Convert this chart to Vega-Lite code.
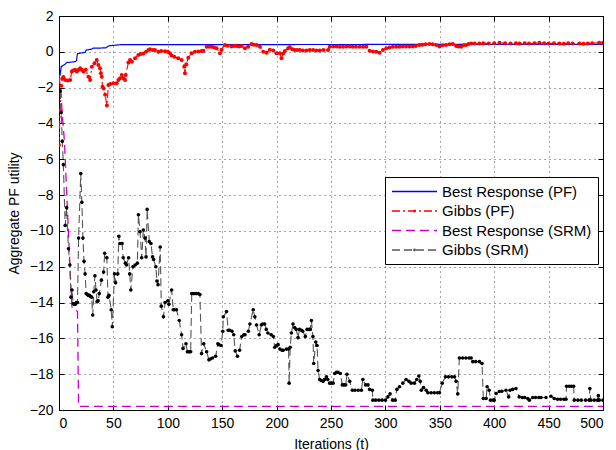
{
"$schema": "https://vega.github.io/schema/vega-lite/v6.json",
"width": 544, "height": 394,
"autosize": {"type": "none"},
"padding": {"left": 59, "top": 16, "right": 13, "bottom": 40},
"background": "white",
"config": {
  "font": "Liberation Sans",
  "view": {"stroke": "black", "strokeWidth": 1},
  "axis": {"domainColor": "black", "tickColor": "black", "tickSize": -5, "labelPadding": 11, "labelFontSize": 14, "labelColor": "black", "titleFontSize": 14, "titleFontWeight": "normal", "titleColor": "black", "gridColor": "#000", "gridDash": [1, 4], "gridOpacity": 0.7, "gridWidth": 1}
},
"datasets": {
"br_pf": [{"t":0,"v":-1.35},{"t":1,"v":-1.3},{"t":2,"v":-0.83},{"t":5,"v":-0.72},{"t":7,"v":-0.6},{"t":15,"v":-0.55},{"t":16,"v":-0.5},{"t":17,"v":-0.1},{"t":24,"v":-0.03},{"t":25,"v":0.1},{"t":30,"v":0.15},{"t":31,"v":0.2},{"t":43,"v":0.22},{"t":46,"v":0.34},{"t":57,"v":0.4},{"t":500,"v":0.42}],
"br_srm": [{"t":0,"v":-1.3},{"t":2,"v":-2.5},{"t":3,"v":-3.5},{"t":5,"v":-5.0},{"t":7,"v":-7.8},{"t":9,"v":-10.5},{"t":11,"v":-13.2},{"t":12,"v":-14.3},{"t":17,"v":-14.5},{"t":18,"v":-19.8},{"t":500,"v":-19.8}],
"g_pf": [{"t":0,"v":-5.2},{"t":1,"v":-3.3},{"t":2,"v":-1.9},{"t":3,"v":-1.5},{"t":4,"v":-1.4},{"t":5.7,"v":-1.58},{"t":8,"v":-1.6},{"t":10.3,"v":-1.58},{"t":11.8,"v":-1.1},{"t":13,"v":-1.05},{"t":14.9,"v":-1.0},{"t":16.4,"v":-1.1},{"t":18,"v":-1.0},{"t":19.4,"v":-0.92},{"t":21,"v":-1.0},{"t":22.5,"v":-1.1},{"t":24.6,"v":-1.0},{"t":27,"v":-1.39},{"t":28.6,"v":-1.58},{"t":30.2,"v":-0.83},{"t":32.6,"v":-0.64},{"t":34.7,"v":-0.46},{"t":36.2,"v":-0.74},{"t":37.7,"v":-0.92},{"t":38.5,"v":-1.2},{"t":39.3,"v":-1.39},{"t":40,"v":-1.95},{"t":41,"v":-2.05},{"t":42.4,"v":-2.4},{"t":44,"v":-3.0},{"t":45.4,"v":-1.85},{"t":47,"v":-1.8},{"t":50,"v":-1.76},{"t":53,"v":-1.76},{"t":54.6,"v":-1.58},{"t":56.1,"v":-1.48},{"t":57.7,"v":-1.3},{"t":59.2,"v":-1.48},{"t":60.7,"v":-1.58},{"t":61.3,"v":-1.3},{"t":63.8,"v":-0.59},{"t":65.3,"v":-0.46},{"t":67,"v":-0.55},{"t":69.9,"v":-0.36},{"t":72.9,"v":-0.18},{"t":75,"v":-0.12},{"t":77.5,"v":-0.1},{"t":80,"v":0.0},{"t":82.1,"v":0.1},{"t":83.6,"v":0.14},{"t":86,"v":0.1},{"t":88.2,"v":0.1},{"t":91.3,"v":0.0},{"t":94,"v":0.05},{"t":97.4,"v":0.03},{"t":100,"v":0.0},{"t":102,"v":-0.08},{"t":103.5,"v":-0.2},{"t":106,"v":-0.28},{"t":109.6,"v":-0.36},{"t":112.7,"v":-0.46},{"t":115.1,"v":-0.83},{"t":115.8,"v":-1.2},{"t":117,"v":-0.7},{"t":118.8,"v":-0.33},{"t":121.9,"v":-0.08},{"t":124.9,"v":0.0},{"t":128,"v":0.02},{"t":131.1,"v":0.04},{"t":132.6,"v":0.05},{"t":135.7,"v":0.28},{"t":138,"v":0.28},{"t":140.3,"v":0.28},{"t":142.5,"v":0.24},{"t":144.8,"v":0.2},{"t":147.9,"v":-0.08},{"t":149.4,"v":0.12},{"t":152.5,"v":0.38},{"t":155,"v":0.34},{"t":158.6,"v":0.3},{"t":161,"v":0.32},{"t":163.2,"v":0.32},{"t":165.5,"v":0.3},{"t":167.8,"v":0.32},{"t":170.9,"v":0.2},{"t":173.9,"v":0.28},{"t":177,"v":0.44},{"t":179,"v":0.4},{"t":181.6,"v":0.38},{"t":184.7,"v":0.28},{"t":187.7,"v":0.0},{"t":190.8,"v":-0.05},{"t":193.8,"v":0.12},{"t":196.9,"v":0.08},{"t":199.9,"v":-0.08},{"t":203,"v":-0.08},{"t":204.5,"v":-0.36},{"t":206,"v":-0.1},{"t":207.6,"v":0.05},{"t":210.6,"v":0.2},{"t":212.1,"v":0.25},{"t":214.5,"v":0.15},{"t":216.7,"v":0.1},{"t":219,"v":0.1},{"t":221.3,"v":0.1},{"t":224,"v":0.08},{"t":227.4,"v":0.08},{"t":230.5,"v":0.1},{"t":233.5,"v":0.1},{"t":236.5,"v":0.08},{"t":239.6,"v":0.08},{"t":243,"v":0.1},{"t":247.3,"v":0.1},{"t":248.8,"v":0.28},{"t":252,"v":0.3},{"t":254.9,"v":0.3},{"t":258,"v":0.28},{"t":261,"v":0.28},{"t":264,"v":0.3},{"t":267.2,"v":0.3},{"t":270,"v":0.28},{"t":273,"v":0.28},{"t":276.4,"v":0.28},{"t":279.5,"v":0.28},{"t":282.5,"v":0.28},{"t":285.5,"v":0.06},{"t":288.5,"v":0.02},{"t":291.6,"v":0.0},{"t":294.7,"v":-0.05},{"t":297.7,"v":0.1},{"t":300.8,"v":0.2},{"t":303.8,"v":0.24},{"t":306.9,"v":0.28},{"t":310,"v":0.28},{"t":313,"v":0.28},{"t":316,"v":0.3},{"t":319,"v":0.3},{"t":322,"v":0.3},{"t":325.2,"v":0.3},{"t":328,"v":0.32},{"t":331.3,"v":0.38},{"t":334,"v":0.4},{"t":337,"v":0.42},{"t":340.5,"v":0.44},{"t":343.5,"v":0.42},{"t":346.6,"v":0.38},{"t":349.7,"v":0.3},{"t":352.7,"v":0.36},{"t":355.8,"v":0.38},{"t":359,"v":0.42},{"t":361.9,"v":0.44},{"t":365,"v":0.32},{"t":367,"v":0.3},{"t":369.6,"v":0.28},{"t":372,"v":0.36},{"t":374.2,"v":0.38},{"t":376.5,"v":0.44},{"t":378.8,"v":0.47},{"t":382,"v":0.46},{"t":386.4,"v":0.47},{"t":390,"v":0.48},{"t":395,"v":0.47},{"t":400,"v":0.48},{"t":404.8,"v":0.5},{"t":410,"v":0.48},{"t":415,"v":0.46},{"t":420,"v":0.48},{"t":423.2,"v":0.47},{"t":428,"v":0.48},{"t":432,"v":0.46},{"t":437,"v":0.48},{"t":441.5,"v":0.5},{"t":446,"v":0.48},{"t":450,"v":0.46},{"t":455,"v":0.48},{"t":459.9,"v":0.47},{"t":464,"v":0.45},{"t":468,"v":0.48},{"t":472,"v":0.46},{"t":478.2,"v":0.47},{"t":482,"v":0.45},{"t":486,"v":0.47},{"t":490,"v":0.48},{"t":496.5,"v":0.51},{"t":500,"v":0.5}],
"g_srm": [{"t":1,"v":-2.2},{"t":2,"v":-3.4},{"t":3,"v":-5.0},{"t":4,"v":-6.3},{"t":5.7,"v":-9.7},{"t":7,"v":-8.7},{"t":8.7,"v":-11.0},{"t":10,"v":-11.9},{"t":11,"v":-13.7},{"t":12,"v":-13.3},{"t":13,"v":-14.05},{"t":14,"v":-14.1},{"t":15,"v":-14.1},{"t":16,"v":-14.0},{"t":17,"v":-14.0},{"t":18,"v":-10.4},{"t":20,"v":-6.8},{"t":21,"v":-8.4},{"t":22,"v":-10.4},{"t":23,"v":-11.7},{"t":24,"v":-12.4},{"t":25,"v":-13.5},{"t":26,"v":-13.55},{"t":27,"v":-13.6},{"t":28,"v":-13.6},{"t":29,"v":-13.65},{"t":30,"v":-13.7},{"t":31,"v":-14.7},{"t":32,"v":-13.4},{"t":33,"v":-12.5},{"t":34,"v":-13.3},{"t":35,"v":-13.95},{"t":36,"v":-13.9},{"t":37,"v":-13.5},{"t":39,"v":-12.75},{"t":41,"v":-12.3},{"t":42,"v":-11.25},{"t":44,"v":-11.5},{"t":45,"v":-13.7},{"t":46,"v":-13.6},{"t":48,"v":-14.4},{"t":49,"v":-15.35},{"t":51,"v":-12.4},{"t":52,"v":-12.9},{"t":54,"v":-12.4},{"t":55,"v":-10.3},{"t":56,"v":-10.7},{"t":58,"v":-10.7},{"t":59,"v":-11.5},{"t":61,"v":-11.8},{"t":62,"v":-11.9},{"t":64,"v":-11.5},{"t":65,"v":-12.4},{"t":66,"v":-13.3},{"t":68,"v":-12.0},{"t":70,"v":-11.9},{"t":72,"v":-11.8},{"t":73,"v":-9.1},{"t":74.5,"v":-10.05},{"t":76,"v":-11.5},{"t":77.5,"v":-9.95},{"t":79,"v":-10.4},{"t":80,"v":-11.45},{"t":81,"v":-8.8},{"t":83,"v":-10.6},{"t":84.5,"v":-10.7},{"t":86,"v":-11.45},{"t":87,"v":-11.6},{"t":89,"v":-12.0},{"t":90,"v":-12.8},{"t":91,"v":-13.0},{"t":93,"v":-10.9},{"t":94,"v":-14.2},{"t":96,"v":-14.8},{"t":97.5,"v":-14.0},{"t":100,"v":-13.9},{"t":101,"v":-14.1},{"t":103.5,"v":-13.3},{"t":105,"v":-14.4},{"t":106,"v":-14.4},{"t":108,"v":-14.4},{"t":110.5,"v":-15.0},{"t":112.7,"v":-15.8},{"t":114,"v":-16.56},{"t":116.7,"v":-16.3},{"t":118,"v":-16.75},{"t":119,"v":-16.75},{"t":120,"v":-16.75},{"t":121,"v":-16.75},{"t":122,"v":-13.5},{"t":124,"v":-13.5},{"t":126,"v":-13.5},{"t":128,"v":-13.5},{"t":129.5,"v":-13.55},{"t":131,"v":-16.85},{"t":133,"v":-16.3},{"t":135.7,"v":-16.75},{"t":137.8,"v":-17.2},{"t":139,"v":-17.15},{"t":141,"v":-17.1},{"t":144,"v":-17.0},{"t":146,"v":-16.3},{"t":147,"v":-16.35},{"t":149,"v":-16.4},{"t":150.5,"v":-15.6},{"t":151,"v":-14.8},{"t":154,"v":-14.5},{"t":155.5,"v":-15.55},{"t":157,"v":-15.55},{"t":159,"v":-15.6},{"t":160.6,"v":-15.8},{"t":162,"v":-16.7},{"t":164,"v":-17.0},{"t":166,"v":-16.66},{"t":168,"v":-15.9},{"t":170,"v":-15.8},{"t":171,"v":-15.8},{"t":174,"v":-15.6},{"t":175.5,"v":-15.2},{"t":178.5,"v":-14.4},{"t":180,"v":-14.8},{"t":181.6,"v":-15.25},{"t":184,"v":-15.8},{"t":186,"v":-15.25},{"t":187,"v":-15.2},{"t":189,"v":-15.2},{"t":190.5,"v":-15.5},{"t":192,"v":-15.7},{"t":195,"v":-15.8},{"t":197,"v":-15.9},{"t":198.3,"v":-16.5},{"t":200,"v":-16.4},{"t":201.4,"v":-16.35},{"t":203,"v":-16.6},{"t":205,"v":-16.66},{"t":206,"v":-16.66},{"t":209,"v":-16.6},{"t":211,"v":-16.6},{"t":211.5,"v":-18.5},{"t":212.5,"v":-16.5},{"t":213.6,"v":-15.7},{"t":215.1,"v":-15.2},{"t":216.6,"v":-15.4},{"t":218,"v":-15.5},{"t":219.7,"v":-15.96},{"t":221,"v":-15.5},{"t":223,"v":-15.55},{"t":224,"v":-15.6},{"t":226.4,"v":-15.9},{"t":228,"v":-15.5},{"t":230,"v":-15.5},{"t":231,"v":-15.5},{"t":232,"v":-15.0},{"t":233.4,"v":-15.9},{"t":234.1,"v":-17.4},{"t":236,"v":-16.2},{"t":237.2,"v":-16.4},{"t":238.1,"v":-17.8},{"t":239.6,"v":-18.3},{"t":241,"v":-18.35},{"t":242.7,"v":-18.4},{"t":244,"v":-18.3},{"t":245.8,"v":-18.15},{"t":247,"v":-18.3},{"t":248.8,"v":-18.5},{"t":250,"v":-18.5},{"t":251.9,"v":-18.5},{"t":253.4,"v":-17.96},{"t":255,"v":-17.9},{"t":256.5,"v":-17.9},{"t":258.6,"v":-17.96},{"t":260.4,"v":-18.6},{"t":262,"v":-18.6},{"t":263.5,"v":-18.6},{"t":264.7,"v":-18.0},{"t":267.2,"v":-18.4},{"t":269.6,"v":-18.9},{"t":272,"v":-18.9},{"t":275,"v":-18.9},{"t":277.9,"v":-18.9},{"t":279.3,"v":-18.3},{"t":281.8,"v":-18.6},{"t":284,"v":-18.6},{"t":285.5,"v":-18.85},{"t":288,"v":-18.9},{"t":288.5,"v":-19.45},{"t":291,"v":-19.45},{"t":294,"v":-19.45},{"t":297,"v":-19.45},{"t":300,"v":-19.45},{"t":302.3,"v":-19.27},{"t":304.3,"v":-19.1},{"t":306.7,"v":-19.45},{"t":309,"v":-19.45},{"t":310.6,"v":-18.85},{"t":313,"v":-18.7},{"t":316,"v":-18.5},{"t":319,"v":-18.3},{"t":321.6,"v":-18.4},{"t":323.7,"v":-18.5},{"t":326.7,"v":-18.5},{"t":328.8,"v":-18.3},{"t":330.7,"v":-18.1},{"t":332,"v":-18.4},{"t":333,"v":-18.9},{"t":335,"v":-18.75},{"t":337.5,"v":-18.9},{"t":339,"v":-19.04},{"t":342,"v":-19.04},{"t":345,"v":-19.04},{"t":348,"v":-19.04},{"t":349.7,"v":-19.04},{"t":352.2,"v":-18.5},{"t":355.2,"v":-18.15},{"t":358,"v":-18.15},{"t":361,"v":-18.15},{"t":363.5,"v":-18.15},{"t":365,"v":-18.4},{"t":366.5,"v":-19.1},{"t":368,"v":-17.1},{"t":371,"v":-17.1},{"t":374,"v":-17.1},{"t":377,"v":-17.1},{"t":378.8,"v":-17.1},{"t":380.3,"v":-17.3},{"t":383,"v":-17.3},{"t":386.4,"v":-17.3},{"t":388.8,"v":-17.4},{"t":390,"v":-19.36},{"t":392.6,"v":-19.36},{"t":393.5,"v":-18.7},{"t":395.4,"v":-18.9},{"t":396.6,"v":-19.45},{"t":399,"v":-19.45},{"t":400,"v":-19.45},{"t":401.7,"v":-19.08},{"t":404.7,"v":-18.97},{"t":407,"v":-18.95},{"t":410.8,"v":-18.9},{"t":413.3,"v":-19.27},{"t":414.5,"v":-18.9},{"t":417,"v":-18.85},{"t":420,"v":-18.8},{"t":423,"v":-19.27},{"t":426,"v":-19.3},{"t":428,"v":-19.3},{"t":430.8,"v":-19.36},{"t":432.3,"v":-19.45},{"t":435.4,"v":-19.3},{"t":438,"v":-19.3},{"t":441,"v":-19.3},{"t":443,"v":-19.3},{"t":447.6,"v":-19.3},{"t":452.2,"v":-19.23},{"t":455.2,"v":-19.36},{"t":458.3,"v":-19.4},{"t":461,"v":-19.4},{"t":464,"v":-19.4},{"t":466,"v":-19.4},{"t":466.5,"v":-18.67},{"t":469,"v":-18.67},{"t":471,"v":-18.67},{"t":473,"v":-18.67},{"t":473.6,"v":-19.45},{"t":477,"v":-19.45},{"t":480,"v":-19.45},{"t":484,"v":-19.45},{"t":487.3,"v":-19.45},{"t":487.9,"v":-18.8},{"t":488.8,"v":-19.45},{"t":492,"v":-19.45},{"t":495,"v":-19.45},{"t":495.7,"v":-19.2},{"t":496.6,"v":-19.45},{"t":500,"v":-19.45}]
},
"encoding": {
  "x": {"field": "t", "type": "quantitative", "scale": {"domain": [0, 500], "nice": false, "zero": false}, "axis": null},
  "y": {"field": "v", "type": "quantitative", "scale": {"domain": [-20, 2], "nice": false, "zero": false}, "axis": null},
  "color": {"type": "nominal",
    "scale": {"domain": ["Best Response (PF)", "Gibbs (PF)", "Best Response (SRM)", "Gibbs (SRM)"], "range": ["#0000ff", "#ff0000", "#cc00cc", "#555555"]},
    "legend": {"title": null, "orient": "none", "legendX": 326, "legendY": 161, "direction": "vertical", "strokeColor": "black", "fillColor": "white", "padding": 6, "labelFontSize": 15, "labelColor": "black", "symbolType": "M-1,0H5", "symbolSize": 225, "symbolStrokeWidth": 1.3, "rowPadding": 2.5, "labelOffset": 34, "cornerRadius": 0,
      "encode": {"symbols": {"update": {"shape": {"signal": "(datum.value === 'Gibbs (PF)' || datum.value === 'Gibbs (SRM)') ? 'M1.9,0A0.1,0.1 0 1,1 2.1,0A0.1,0.1 0 1,1 1.9,0M-1,0H5' : 'M-1,0H5'"}}}}}},
  "strokeDash": {"type": "nominal",
    "scale": {"domain": ["Best Response (PF)", "Gibbs (PF)", "Best Response (SRM)", "Gibbs (SRM)"], "range": [[1, 0], [8, 3, 2, 3], [9, 5], [8, 4]]},
    "legend": null}
},
"layer": [
  {"data": {"name": "br_pf"}, "mark": {"type": "line", "strokeWidth": 1.2, "clip": true},
   "encoding": {
     "x": {"field": "t", "type": "quantitative", "scale": {"domain": [0, 500], "nice": false, "zero": false}, "axis": {"title": "Iterations (t)", "values": [0,50,100,150,200,250,300,350,400,450,500], "titlePadding": 7}},
     "y": {"field": "v", "type": "quantitative", "scale": {"domain": [-20, 2], "nice": false, "zero": false}, "axis": {"title": "Aggregate PF utility", "values": [-20,-18,-16,-14,-12,-10,-8,-6,-4,-2,0,2], "titlePadding": 8}},
     "color": {"datum": "Best Response (PF)"}, "strokeDash": {"datum": "Best Response (PF)"}}},
  {"data": {"name": "g_pf"}, "mark": {"type": "line", "strokeWidth": 1.1, "clip": true},
   "encoding": {"color": {"datum": "Gibbs (PF)"}, "strokeDash": {"datum": "Gibbs (PF)"}}},
  {"data": {"name": "br_srm"}, "mark": {"type": "line", "strokeWidth": 1.3, "clip": true},
   "encoding": {"color": {"datum": "Best Response (SRM)"}, "strokeDash": {"datum": "Best Response (SRM)"}}},
  {"data": {"name": "g_srm"}, "mark": {"type": "line", "strokeWidth": 1.1, "clip": true},
   "encoding": {"color": {"datum": "Gibbs (SRM)"}, "strokeDash": {"datum": "Gibbs (SRM)"}}},
  {"data": {"name": "g_pf"}, "mark": {"type": "point", "filled": true, "color": "#ff0000", "size": 16, "opacity": 1, "clip": true}},
  {"data": {"name": "g_srm"}, "mark": {"type": "point", "filled": true, "color": "#000000", "size": 13, "opacity": 1, "clip": true}},
  {"data": {"name": "br_pf"}, "mark": {"type": "point", "opacity": 0},
   "encoding": {
     "x": {"field": "t", "type": "quantitative", "axis": {"orient": "top", "labels": false, "title": null, "grid": false, "domain": false, "values": [0,50,100,150,200,250,300,350,400,450,500]}},
     "y": {"field": "v", "type": "quantitative", "axis": {"orient": "right", "labels": false, "title": null, "grid": false, "domain": false, "values": [-20,-18,-16,-14,-12,-10,-8,-6,-4,-2,0,2]}}
   }}
],
"resolve": {"axis": {"x": "independent", "y": "independent"}}
}
